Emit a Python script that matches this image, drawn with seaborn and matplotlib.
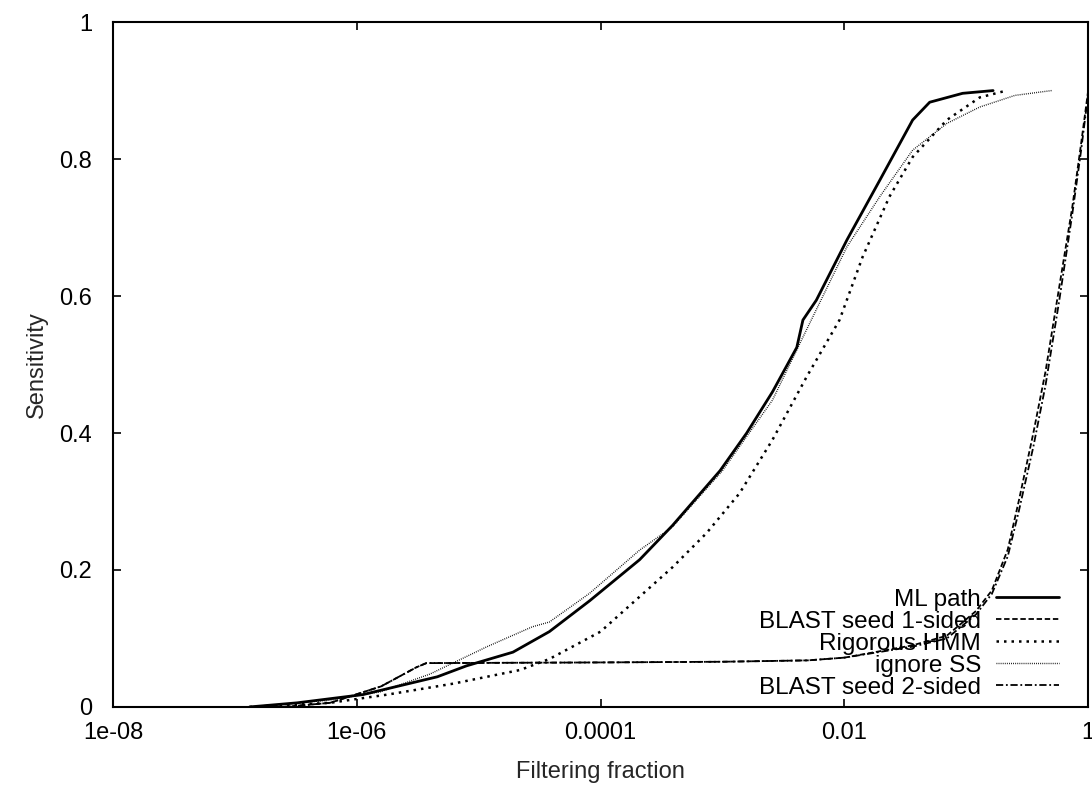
import numpy as np
import pandas as pd
import matplotlib
matplotlib.use('Agg')
import matplotlib.pyplot as plt
import matplotlib.ticker as mticker
import seaborn as sns

# curves (x = filtering fraction, y = sensitivity)
ml_x = [1.32e-7, 3.24e-7, 1.12e-6, 2.14e-6, 4.57e-6, 7.94e-6, 1.91e-5, 3.80e-5, 8.13e-5,
        2.09e-4, 3.89e-4, 9.55e-4, 1.58e-3, 2.57e-3, 4.07e-3, 4.57e-3, 5.89e-3, 0.0105,
        0.0195, 0.0363, 0.0501, 0.0933, 0.166]
ml_y = [0.0, 0.006, 0.018, 0.03, 0.044, 0.06, 0.08, 0.11, 0.155,
        0.215, 0.265, 0.345, 0.40, 0.46, 0.525, 0.565, 0.594, 0.682,
        0.769, 0.857, 0.883, 0.896, 0.90]

b1_x = [2.51e-7, 6.03e-7, 1.58e-6, 3.09e-6, 3.72e-6, 1e-4, 1e-3, 5.01e-3, 0.01,
        0.0363, 0.0692, 0.120, 0.162, 0.219, 0.269, 0.355, 0.447, 0.575, 0.741, 0.871, 1.0]
b1_y = [0.0, 0.006, 0.03, 0.058, 0.064, 0.065, 0.066, 0.068, 0.072,
        0.09, 0.104, 0.14, 0.17, 0.23, 0.30, 0.40, 0.49, 0.61, 0.73, 0.82, 0.90]

hmm_x = [1.32e-7, 6.03e-7, 1.78e-6, 6.17e-6, 2.19e-5, 3.80e-5, 1.0e-4, 2.09e-4, 3.89e-4,
         7.41e-4, 1.38e-3, 2.57e-3, 4.90e-3, 9.12e-3, 0.0141, 0.0234, 0.0363, 0.0692,
         0.129, 0.214]
hmm_y = [0.0, 0.006, 0.018, 0.034, 0.054, 0.07, 0.11, 0.161, 0.204,
         0.254, 0.312, 0.39, 0.482, 0.565, 0.657, 0.745, 0.803, 0.857,
         0.89, 0.90]

ss_x = [1.32e-7, 6.03e-7, 1.55e-6, 3.98e-6, 1.17e-5, 2.75e-5, 3.80e-5, 8.13e-5, 2.09e-4,
        3.89e-4, 1.0e-3, 2.57e-3, 4.57e-3, 0.0105, 0.0195, 0.0363, 0.0692, 0.129,
        0.251, 0.501]
ss_y = [0.0, 0.01, 0.022, 0.048, 0.088, 0.117, 0.124, 0.166, 0.229,
        0.263, 0.345, 0.448, 0.54, 0.672, 0.745, 0.813, 0.852, 0.876,
        0.893, 0.90]

b2_x = [2.51e-7, 6.03e-7, 1.58e-6, 3.09e-6, 3.72e-6, 1e-4, 1e-3, 5.01e-3, 0.01,
        0.0363, 0.0692, 0.120, 0.162, 0.219, 0.269, 0.355, 0.447, 0.575, 0.741, 0.871, 1.0]
b2_y = [0.0, 0.006, 0.03, 0.058, 0.064, 0.065, 0.066, 0.068, 0.072,
        0.088, 0.10, 0.135, 0.165, 0.22, 0.285, 0.38, 0.47, 0.59, 0.72, 0.81, 0.895]

labels = ['ML path', 'BLAST seed 1-sided', 'Rigorous HMM', 'ignore SS', 'BLAST seed 2-sided']
xticks = [1e-8, 1e-6, 1e-4, 1e-2, 1]
xtick_labels = ['1e-08', '1e-06', '0.0001', '0.01', '1']
yticks = [0, 0.2, 0.4, 0.6, 0.8, 1]
ytick_labels = ['0', '0.2', '0.4', '0.6', '0.8', '1']

sns.set_theme(style='white')
plt.rcParams['font.family'] = ['Liberation Sans', 'DejaVu Sans']

fig = plt.figure(figsize=(10.92, 7.89), dpi=100)
ax = fig.add_axes([0.1035, 0.104, 0.893, 0.868])

series = [(ml_x, ml_y, '-', 2.0),
          (b1_x, b1_y, (0, (3, 1.5)), 1.3),
          (hmm_x, hmm_y, (0, (1, 2)), 1.8),
          (ss_x, ss_y, (0, (0.6, 0.9)), 1.0),
          (b2_x, b2_y, (0, (4, 1.5, 1, 1.5)), 1.3)]

for (xs, ys, ls, lw), lab in zip(series, labels):
    df = pd.DataFrame({'x': xs, 'y': ys})
    sns.lineplot(data=df, x='x', y='y', ax=ax, color='black', linestyle=ls,
                 linewidth=lw, label=lab, estimator=None, sort=False)

ax.set_xscale('log')
ax.set_xlim(1e-8, 1)
ax.set_ylim(0, 1)
ax.xaxis.set_major_locator(mticker.FixedLocator(xticks))
ax.xaxis.set_major_formatter(mticker.FixedFormatter(xtick_labels))
ax.xaxis.set_minor_locator(mticker.NullLocator())
ax.yaxis.set_major_locator(mticker.FixedLocator(yticks))
ax.yaxis.set_major_formatter(mticker.FixedFormatter(ytick_labels))

ax.tick_params(axis='both', direction='in', length=6, width=1.2, colors='black',
               labelsize=17, top=True, right=True, bottom=True, left=True)
ax.tick_params(axis='y', pad=15)
ax.tick_params(axis='x', pad=11)
for sp in ax.spines.values():
    sp.set_color('black')
    sp.set_linewidth(1.5)

ax.set_xlabel('Filtering fraction', fontsize=17, labelpad=12)
ax.set_ylabel('Sensitivity', fontsize=17, labelpad=8)

leg = ax.legend(loc='lower right', bbox_to_anchor=(0.97, 0.012), frameon=False,
                markerfirst=False, fontsize=17.5, handlelength=2.6,
                handletextpad=0.6, labelspacing=0.0, borderpad=0, borderaxespad=0)
for t in leg.get_texts():
    t.set_color('black')

fig.savefig('out.png', dpi=100, facecolor='white')
